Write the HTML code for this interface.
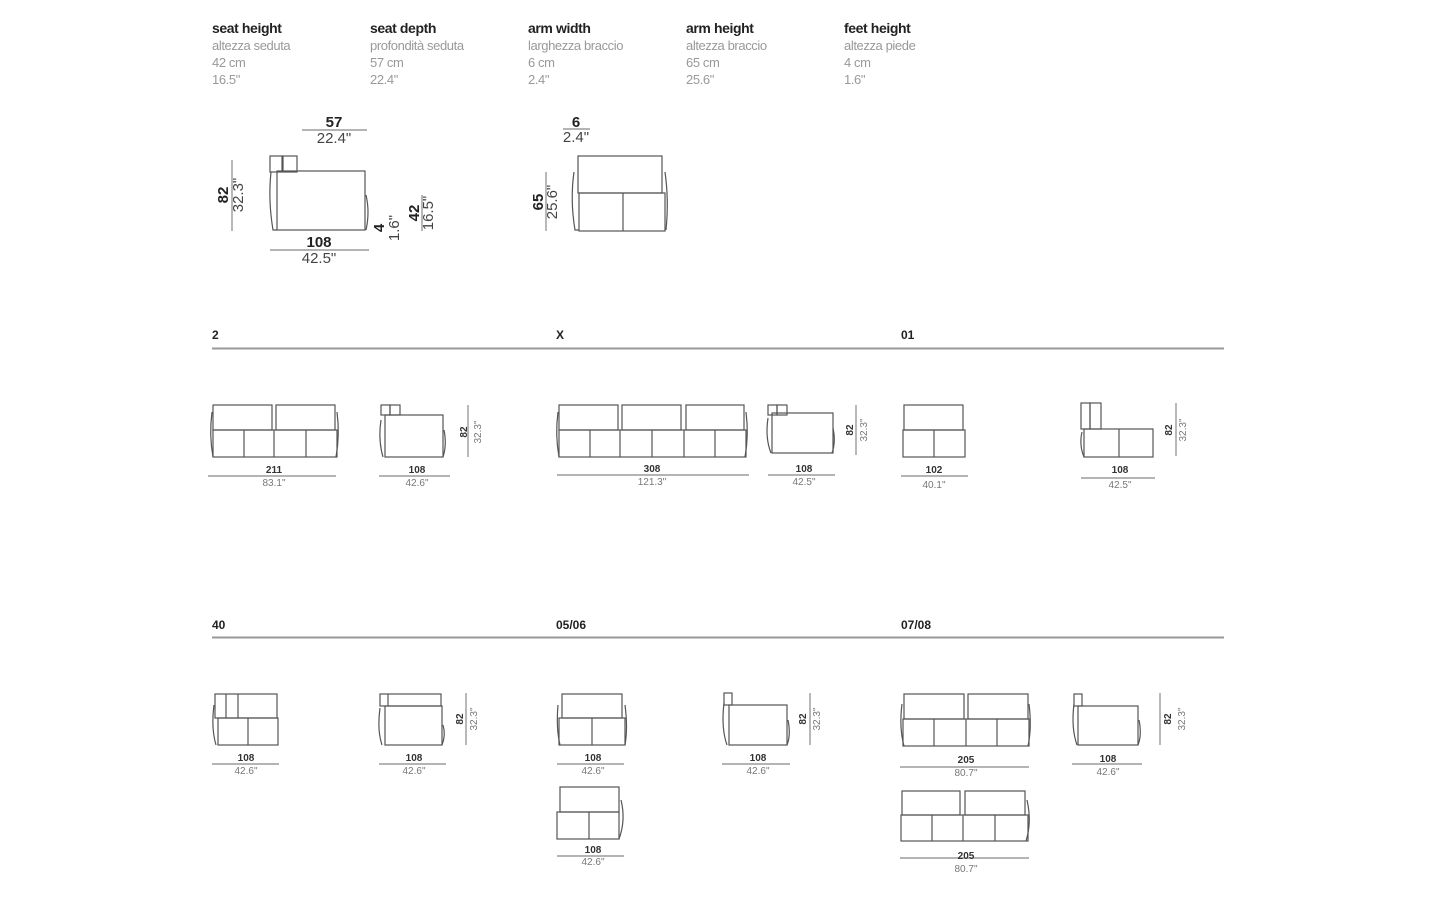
<!DOCTYPE html>
<html><head><meta charset="utf-8"><style>
html,body{margin:0;padding:0;background:#fff;width:1440px;height:900px;overflow:hidden}
svg{display:block}
text{font-family:"Liberation Sans",Arial,sans-serif}
.h{font-size:14px;font-weight:bold;fill:#222;letter-spacing:-0.4px}
.g{font-size:13px;fill:#999;letter-spacing:-0.4px}
.s{fill:none;stroke:#555;stroke-width:1.2}
.d{stroke:#888;stroke-width:1.2}
.n{font-size:10px;font-weight:bold;fill:#333;text-anchor:middle}
.i{font-size:10px;fill:#777;text-anchor:middle}
.N{font-size:15px;font-weight:bold;fill:#222;text-anchor:middle}
.I{font-size:15px;fill:#444;text-anchor:middle}
.sec{font-size:12px;font-weight:bold;fill:#222}
</style></head><body>
<svg width="1440" height="900" viewBox="0 0 1440 900">
<!-- header -->
<g>
<text class="h" x="212" y="33">seat height</text><text class="g" x="212" y="50">altezza seduta</text><text class="g" x="212" y="67">42 cm</text><text class="g" x="212" y="84">16.5"</text>
<text class="h" x="370" y="33">seat depth</text><text class="g" x="370" y="50">profondità seduta</text><text class="g" x="370" y="67">57 cm</text><text class="g" x="370" y="84">22.4"</text>
<text class="h" x="528" y="33">arm width</text><text class="g" x="528" y="50">larghezza braccio</text><text class="g" x="528" y="67">6 cm</text><text class="g" x="528" y="84">2.4"</text>
<text class="h" x="686" y="33">arm height</text><text class="g" x="686" y="50">altezza braccio</text><text class="g" x="686" y="67">65 cm</text><text class="g" x="686" y="84">25.6"</text>
<text class="h" x="844" y="33">feet height</text><text class="g" x="844" y="50">altezza piede</text><text class="g" x="844" y="67">4 cm</text><text class="g" x="844" y="84">1.6"</text>
</g>
<!-- top side view -->
<g class="s">
<rect x="270" y="156" width="12" height="16"/><rect x="283" y="156" width="14" height="16"/>
<rect x="277" y="171" width="88" height="59"/>
<path d="M271 172 Q268 200 273 230 L277 230"/><path d="M366 195 Q370 212 366 230"/>
</g>
<line class="d" x1="302" y1="130" x2="367" y2="130"/>
<text class="N" x="334" y="127">57</text><text class="I" x="334" y="143">22.4"</text>
<line class="d" x1="232" y1="160" x2="232" y2="231"/>
<text class="N" transform="translate(228,195) rotate(-90)">82</text>
<text class="I" transform="translate(243,195) rotate(-90)">32.3"</text>
<line class="d" x1="270" y1="250" x2="369" y2="250"/>
<text class="N" x="319" y="247">108</text><text class="I" x="319" y="263">42.5"</text>
<text class="N" transform="translate(384,228) rotate(-90)">4</text>
<text class="I" transform="translate(399,228) rotate(-90)">1.6"</text>
<line class="d" x1="422" y1="195" x2="422" y2="231"/>
<text class="N" transform="translate(419,213) rotate(-90)">42</text>
<text class="I" transform="translate(433,213) rotate(-90)">16.5"</text>
<!-- top front view -->
<g class="s">
<rect x="578" y="156" width="84" height="37"/>
<rect x="579" y="193" width="86" height="38"/><line x1="623" y1="193" x2="623" y2="231"/>
<path d="M574 172 Q570 200 575 230 L579 230"/><path d="M665 172 Q669 200 666 230"/>
</g>
<line class="d" x1="563" y1="129" x2="590" y2="129"/>
<text class="N" x="576" y="127">6</text><text class="I" x="576" y="142">2.4"</text>
<line class="d" x1="546" y1="172" x2="546" y2="231"/>
<text class="N" transform="translate(543,202) rotate(-90)">65</text>
<text class="I" transform="translate(557,202) rotate(-90)">25.6"</text>
<!-- sections -->
<text class="sec" x="212" y="339">2</text><text class="sec" x="556" y="339">X</text><text class="sec" x="901" y="339">01</text>
<line x1="212" y1="348.5" x2="1224" y2="348.5" stroke="#999" stroke-width="2"/>
<text class="sec" x="212" y="629">40</text><text class="sec" x="556" y="629">05/06</text><text class="sec" x="901" y="629">07/08</text>
<line x1="212" y1="637.5" x2="1224" y2="637.5" stroke="#999" stroke-width="2"/>
<!-- row 1 -->
<g class="s">
<!-- 2 -->
<rect x="213" y="405" width="59" height="25"/><rect x="276" y="405" width="59" height="25"/>
<rect x="213" y="430" width="124" height="27"/>
<line x1="244" y1="430" x2="244" y2="457"/><line x1="274" y1="430" x2="274" y2="457"/><line x1="306" y1="430" x2="306" y2="457"/>
<path d="M212 412 Q209 435 213 457"/><path d="M337 412 Q340 435 336 457"/>
<!-- side 108 -->
<rect x="381" y="405" width="9" height="10"/><rect x="390" y="405" width="10" height="10"/>
<rect x="385" y="415" width="58" height="42"/>
<path d="M381 420 Q378 440 383 457"/><path d="M444 430 Q447 445 443 457"/>
<!-- X -->
<rect x="559" y="405" width="59" height="25"/><rect x="622" y="405" width="59" height="25"/><rect x="686" y="405" width="58" height="25"/>
<rect x="559" y="430" width="187" height="27"/>
<line x1="590" y1="430" x2="590" y2="457"/><line x1="620" y1="430" x2="620" y2="457"/><line x1="652" y1="430" x2="652" y2="457"/><line x1="684" y1="430" x2="684" y2="457"/><line x1="715" y1="430" x2="715" y2="457"/>
<path d="M558 412 Q555 435 559 457"/><path d="M746 412 Q749 435 745 457"/>
<!-- side X -->
<rect x="768" y="405" width="9" height="10"/><rect x="777" y="405" width="10" height="10"/>
<rect x="772" y="413" width="61" height="40"/>
<path d="M768 418 Q765 438 771 453"/><path d="M833 428 Q836 442 832 453"/>
<!-- 01 -->
<rect x="904" y="405" width="59" height="25"/>
<rect x="903" y="430" width="62" height="27"/><line x1="934" y1="430" x2="934" y2="457"/>
<!-- side 01 -->
<rect x="1081" y="403" width="9" height="26"/><rect x="1090" y="403" width="11" height="26"/>
<rect x="1084" y="429" width="69" height="28"/><line x1="1119" y1="429" x2="1119" y2="457"/>
<path d="M1082 432 Q1079 445 1084 457"/>
</g>
<g>
<line class="d" x1="208" y1="476" x2="336" y2="476"/><text class="n" x="274" y="473">211</text><text class="i" x="274" y="486">83.1"</text>
<line class="d" x1="379" y1="476" x2="450" y2="476"/><text class="n" x="417" y="473">108</text><text class="i" x="417" y="486">42.6"</text>
<line class="d" x1="468" y1="405" x2="468" y2="457"/>
<text class="n" transform="translate(467,432) rotate(-90)">82</text><text class="i" transform="translate(481,432) rotate(-90)">32.3"</text>
<line class="d" x1="557" y1="475" x2="749" y2="475"/><text class="n" x="652" y="472">308</text><text class="i" x="652" y="485">121.3"</text>
<line class="d" x1="768" y1="475" x2="835" y2="475"/><text class="n" x="804" y="472">108</text><text class="i" x="804" y="485">42.5"</text>
<line class="d" x1="856" y1="405" x2="856" y2="455"/>
<text class="n" transform="translate(853,430) rotate(-90)">82</text><text class="i" transform="translate(867,430) rotate(-90)">32.3"</text>
<line class="d" x1="901" y1="476" x2="968" y2="476"/><text class="n" x="934" y="473">102</text><text class="i" x="934" y="488">40.1"</text>
<line class="d" x1="1081" y1="478" x2="1155" y2="478"/><text class="n" x="1120" y="473">108</text><text class="i" x="1120" y="488">42.5"</text>
<line class="d" x1="1176" y1="403" x2="1176" y2="456"/>
<text class="n" transform="translate(1172,430) rotate(-90)">82</text><text class="i" transform="translate(1186,430) rotate(-90)">32.3"</text>
</g>
<!-- row 2 -->
<g class="s">
<!-- 40 -->
<rect x="215" y="694" width="62" height="24"/><line x1="226" y1="694" x2="226" y2="718"/><line x1="238" y1="694" x2="238" y2="718"/>
<rect x="218" y="718" width="60" height="27"/><line x1="248" y1="718" x2="248" y2="745"/>
<path d="M214 705 Q211 728 216 745"/>
<!-- side 106 -->
<rect x="380" y="694" width="61" height="12"/><line x1="388" y1="694" x2="388" y2="706"/>
<rect x="385" y="706" width="57" height="39"/>
<path d="M380 708 Q377 730 382 745"/><path d="M443 725 Q446 735 442 745"/>
<!-- 05/06 a -->
<rect x="562" y="694" width="60" height="24"/>
<rect x="559" y="718" width="66" height="27"/><line x1="592" y1="718" x2="592" y2="745"/>
<path d="M558 705 Q556 728 560 745"/><path d="M625 705 Q628 728 625 745"/>
<!-- 05/06 b -->
<rect x="560" y="787" width="59" height="25"/>
<rect x="557" y="812" width="62" height="27"/><line x1="589" y1="812" x2="589" y2="839"/>
<path d="M621 800 Q626 820 619 839"/>
<!-- side 05/06 -->
<rect x="724" y="693" width="8" height="12"/><rect x="729" y="705" width="58" height="40"/>
<path d="M724 703 Q721 728 727 745"/><path d="M788 720 Q791 735 787 745"/>
<!-- 07/08 a -->
<rect x="904" y="694" width="60" height="25"/><rect x="968" y="694" width="60" height="25"/>
<rect x="903" y="719" width="126" height="27"/>
<line x1="934" y1="719" x2="934" y2="746"/><line x1="966" y1="719" x2="966" y2="746"/><line x1="997" y1="719" x2="997" y2="746"/>
<path d="M902 704 Q899 728 904 746"/><path d="M1029 704 Q1032 728 1028 746"/>
<!-- 07/08 b -->
<rect x="902" y="791" width="58" height="24"/><rect x="965" y="791" width="60" height="24"/>
<rect x="901" y="815" width="127" height="26"/>
<line x1="932" y1="815" x2="932" y2="841"/><line x1="963" y1="815" x2="963" y2="841"/><line x1="995" y1="815" x2="995" y2="841"/>
<path d="M1027 800 Q1032 822 1026 841"/>
<!-- side 07/08 -->
<rect x="1074" y="694" width="8" height="12"/><rect x="1078" y="706" width="60" height="39"/>
<path d="M1074 704 Q1071 728 1077 745"/><path d="M1139 720 Q1142 735 1138 745"/>
</g>
<g>
<line class="d" x1="212" y1="764" x2="279" y2="764"/><text class="n" x="246" y="761">108</text><text class="i" x="246" y="774">42.6"</text>
<line class="d" x1="379" y1="764" x2="446" y2="764"/><text class="n" x="414" y="761">108</text><text class="i" x="414" y="774">42.6"</text>
<line class="d" x1="466" y1="693" x2="466" y2="745"/>
<text class="n" transform="translate(463,719) rotate(-90)">82</text><text class="i" transform="translate(477,719) rotate(-90)">32.3"</text>
<line class="d" x1="557" y1="764" x2="624" y2="764"/><text class="n" x="593" y="761">108</text><text class="i" x="593" y="774">42.6"</text>
<line class="d" x1="557" y1="856" x2="624" y2="856"/><text class="n" x="593" y="853">108</text><text class="i" x="593" y="865">42.6"</text>
<line class="d" x1="722" y1="764" x2="790" y2="764"/><text class="n" x="758" y="761">108</text><text class="i" x="758" y="774">42.6"</text>
<line class="d" x1="810" y1="693" x2="810" y2="745"/>
<text class="n" transform="translate(806,719) rotate(-90)">82</text><text class="i" transform="translate(820,719) rotate(-90)">32.3"</text>
<line class="d" x1="900" y1="767" x2="1029" y2="767"/><text class="n" x="966" y="763">205</text><text class="i" x="966" y="776">80.7"</text>
<line class="d" x1="900" y1="858" x2="1029" y2="858"/><text class="n" x="966" y="859">205</text><text class="i" x="966" y="872">80.7"</text>
<line class="d" x1="1072" y1="764" x2="1142" y2="764"/><text class="n" x="1108" y="762">108</text><text class="i" x="1108" y="775">42.6"</text>
<line class="d" x1="1160" y1="693" x2="1160" y2="745"/>
<text class="n" transform="translate(1171,719) rotate(-90)">82</text><text class="i" transform="translate(1185,719) rotate(-90)">32.3"</text>
</g>
</svg>
</body></html>
